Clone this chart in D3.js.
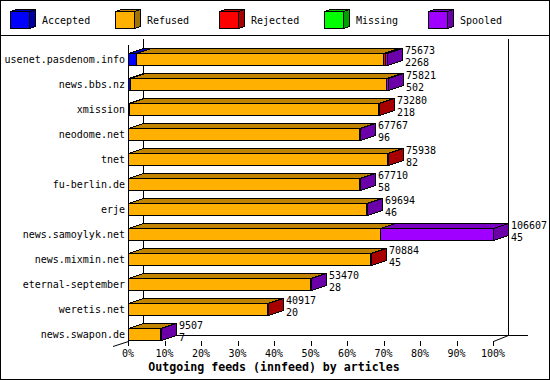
<!DOCTYPE html>
<html>
<head>
<meta charset="utf-8">
<script src="https://cdn.jsdelivr.net/npm/d3@7"></script>
<style>
  body { margin: 0; background: #fff; }
  svg { display: block; }
  text { font-family: "DejaVu Sans Mono", monospace; font-size: 10px; fill: #000; }
</style>
</head>
<body>
<div id="chart"></div>
<script>
// innfeed outgoing feeds, article counts per peer
const hosts = ["usenet.pasdenom.info", "news.bbs.nz", "xmission", "neodome.net", "tnet",
  "fu-berlin.de", "erje", "news.samoylyk.net", "news.mixmin.net", "eternal-september",
  "weretis.net", "news.swapon.de"];
const offered  = [75673, 75821, 73280, 67767, 75938, 67710, 69694, 106607, 70884, 53470, 40917, 9507];
const accepted = [2268, 502, 218, 96, 82, 58, 46, 45, 45, 28, 20, 7];
const refused  = [72250, 74719, 72762, 67371, 75556, 67352, 69348, 73700, 70539, 53142, 40597, 9350];
const rejected = [420, 0, 300, 0, 300, 0, 0, 0, 300, 0, 300, 0];
const missing  = [0, 0, 0, 0, 0, 0, 0, 0, 0, 0, 0, 0];
const spooled  = [735, 600, 0, 300, 0, 300, 300, 32862, 0, 300, 0, 150];

const keys = ["Accepted", "Refused", "Rejected", "Missing", "Spooled"];
const pctTicks = [0, 10, 20, 30, 40, 50, 60, 70, 80, 90, 100];

const frontColors = ["#0000ff", "#ffb000", "#ff0000", "#00ff00", "#a000ff"];
const topColors   = ["#0000c0", "#c08400", "#c00000", "#00c000", "#7800c0"];
const sideColors  = ["#0000a0", "#a07400", "#a80000", "#00a000", "#6c00a8"];

const width = 550, height = 380;
const depthX = 15, depthY = -5;

const rows = hosts.map((h, i) => ({
  host: h, offered: offered[i],
  Accepted: accepted[i], Refused: refused[i], Rejected: rejected[i],
  Missing: missing[i], Spooled: spooled[i]
}));

const svg = d3.select("#chart").append("svg")
  .attr("width", width)
  .attr("height", height)
  .attr("shape-rendering", "crispEdges");

svg.append("rect")
  .attr("x", 0.5).attr("y", 0.5)
  .attr("width", width - 1).attr("height", height - 1)
  .attr("fill", "#fff").attr("stroke", "#000");

// legend strip
svg.append("line")
  .attr("x1", 0).attr("x2", width)
  .attr("y1", 35.5).attr("y2", 35.5)
  .attr("stroke", "#000");

const legend = svg.append("g")
  .selectAll("g")
  .data(keys)
  .join("g")
  .attr("transform", (d, i) => `translate(${Math.round(i * 104.5)},0)`);

function box(g, x, y, w, h, dx, dy, i) {
  const pts = a => a.map(p => p.join(",")).join(" ");
  g.append("polygon")
    .attr("points", pts([[x, y], [x + dx, y + dy], [x + w + dx, y + dy], [x + w, y]]))
    .attr("fill", topColors[i]).attr("stroke", "#000");
  g.append("polygon")
    .attr("points", pts([[x + w, y], [x + w + dx, y + dy], [x + w + dx, y + h + dy], [x + w, y + h]]))
    .attr("fill", sideColors[i]).attr("stroke", "#000");
  g.append("rect")
    .attr("x", x).attr("y", y)
    .attr("width", w).attr("height", h)
    .attr("fill", frontColors[i]).attr("stroke", "#000");
}

legend.each(function(d, i) {
  box(d3.select(this), 10.5, 11.5, 19, 17, 6, -2, i);
});
legend.append("text")
  .attr("x", 42)
  .attr("y", 24)
  .text(d => d);

// scales
const x = d3.scaleLinear()
  .domain([0, d3.max(offered)])
  .range([128, 493]);
const xPct = d3.scaleLinear()
  .domain([0, 100])
  .range([128, 493]);
const y = d3.scaleBand()
  .domain(hosts)
  .range([40, 340]);
const barH = 12;

// walls
const walls = svg.append("g").attr("stroke", "#000").attr("fill", "none");
walls.append("line").attr("x1", 143.5).attr("x2", 143.5).attr("y1", 39).attr("y2", 335.5);
walls.append("line").attr("x1", 508.5).attr("x2", 508.5).attr("y1", 39).attr("y2", 335.5);
walls.append("line").attr("x1", 143).attr("x2", 528).attr("y1", 335.5).attr("y2", 335.5);
walls.append("line").attr("x1", 128.5).attr("x2", 128.5).attr("y1", 45).attr("y2", 341.5);
walls.append("line").attr("x1", 113).attr("x2", 128.5).attr("y1", 346.5).attr("y2", 341.5)
  .attr("shape-rendering", "auto");
walls.append("line").attr("x1", 493.5).attr("x2", 508.5).attr("y1", 341.5).attr("y2", 335.5)
  .attr("shape-rendering", "auto");

// stacked 3d bars
const series = d3.stack().keys(keys)(rows);

const barG = svg.append("g");
rows.forEach((r, ri) => {
  const g = barG.append("g");
  const top = y(r.host) + y.bandwidth() - barH;
  series.forEach((s, si) => {
    const seg = s[ri];
    if (seg[1] - seg[0] <= 0) return;
    const x0 = Math.round(x(seg[0])) + 0.5;
    const x1 = Math.round(x(seg[1])) + 0.5;
    box(g, x0, top + 0.5, Math.max(x1 - x0, 0), barH, depthX, depthY, si);
  });
  const end = Math.round(x(r.offered)) + depthX + 3;
  g.append("text").attr("x", end).attr("y", top + 1).text(r.offered);
  g.append("text").attr("x", end).attr("y", top + barH + 1).text(accepted[ri]);
});

// category labels
svg.append("g")
  .selectAll("text")
  .data(hosts)
  .join("text")
  .attr("x", 125)
  .attr("y", d => y(d) + y.bandwidth() - barH / 2 + 3.5)
  .attr("text-anchor", "end")
  .text(d => d);

// x ticks
const ticks = svg.append("g");
ticks.selectAll("line")
  .data(pctTicks)
  .join("line")
  .attr("x1", d => Math.round(xPct(d)) + 0.5)
  .attr("x2", d => Math.round(xPct(d)) + 0.5)
  .attr("y1", 341)
  .attr("y2", 346)
  .attr("stroke", "#000");
ticks.selectAll("text")
  .data(pctTicks)
  .join("text")
  .attr("x", d => xPct(d))
  .attr("y", 357)
  .attr("text-anchor", "middle")
  .text(d => d + "%");

svg.append("text")
  .attr("x", 274)
  .attr("y", 371)
  .attr("text-anchor", "middle")
  .style("font-weight", "bold")
  .style("font-size", "11.6px")
  .text("Outgoing feeds (innfeed) by articles");
</script>
</body>
</html>
